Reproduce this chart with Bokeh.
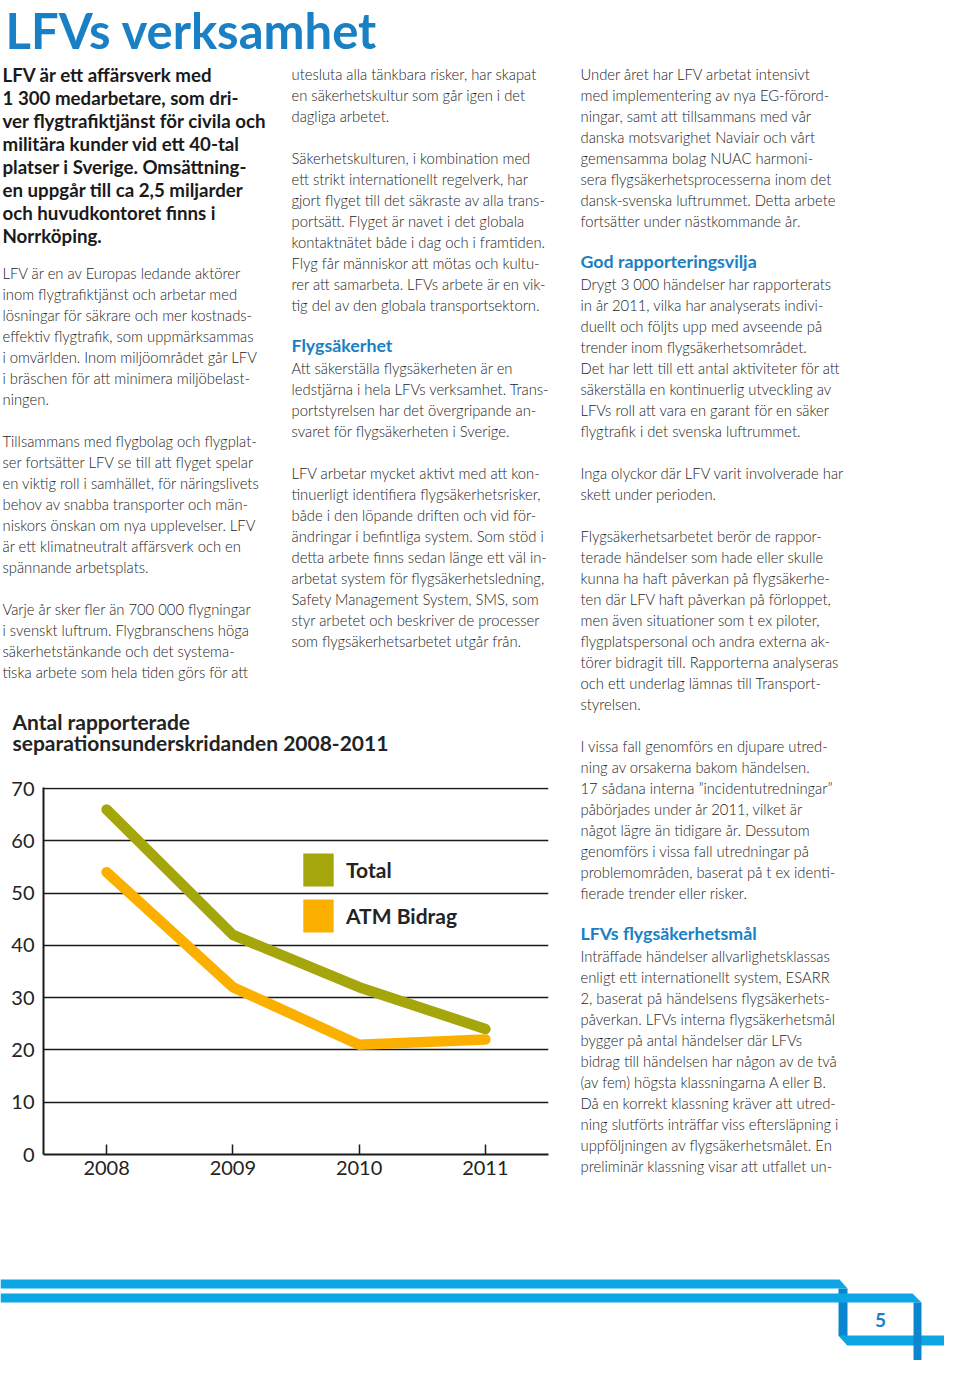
from bokeh.plotting import figure
from bokeh.layouts import column, row
from bokeh.models import Range1d, FixedTicker, Label, Legend, LegendItem
from bokeh.embed import file_html
from bokeh.resources import INLINE

# ---------------- data ----------------
years = [2008, 2009, 2010, 2011]
total = [66, 42, 32, 24]
atm_bidrag = [54, 32, 21, 22]
y_ticks = [0, 10, 20, 30, 40, 50, 60, 70]
series_names = ["Total", "ATM Bidrag"]
series_colors = ["#a5a60c", "#fbb000"]

page_title = "LFVs verksamhet"
chart_title_lines = ["Antal rapporterade", "separationsunderskridanden 2008-2011"]
page_number = "5"

lead_lines = [
    "LFV är ett affärsverk med",
    "1 300 medarbetare, som dri-",
    "ver flygtrafiktjänst för civila och",
    "militära kunder vid ett 40-tal",
    "platser i Sverige. Omsättning-",
    "en uppgår till ca 2,5 miljarder",
    "och huvudkontoret finns i",
    "Norrköping.",
]

col1_lines = [
    "LFV är en av Europas ledande aktörer",
    "inom flygtrafiktjänst och arbetar med",
    "lösningar för säkrare och mer kostnads-",
    "effektiv flygtrafik, som uppmärksammas",
    "i omvärlden. Inom miljöområdet går LFV",
    "i bräschen för att minimera miljöbelast-",
    "ningen.",
    "",
    "Tillsammans med flygbolag och flygplat-",
    "ser fortsätter LFV se till att flyget spelar",
    "en viktig roll i samhället, för näringslivets",
    "behov av snabba transporter och män-",
    "niskors önskan om nya upplevelser. LFV",
    "är ett klimatneutralt affärsverk och en",
    "spännande arbetsplats.",
    "",
    "Varje år sker fler än 700 000 flygningar",
    "i svenskt luftrum. Flygbranschens höga",
    "säkerhetstänkande och det systema-",
    "tiska arbete som hela tiden görs för att",
]

col2_lines = [
    "utesluta alla tänkbara risker, har skapat",
    "en säkerhetskultur som går igen i det",
    "dagliga arbetet.",
    "",
    "Säkerhetskulturen, i kombination med",
    "ett strikt internationellt regelverk, har",
    "gjort flyget till det säkraste av alla trans-",
    "portsätt. Flyget är navet i det globala",
    "kontaktnätet både i dag och i framtiden.",
    "Flyg får människor att mötas och kultu-",
    "rer att samarbeta. LFVs arbete är en vik-",
    "tig del av den globala transportsektorn.",
    "",
    "#Flygsäkerhet",
    "Att säkerställa flygsäkerheten är en",
    "ledstjärna i hela LFVs verksamhet. Trans-",
    "portstyrelsen har det övergripande an-",
    "svaret för flygsäkerheten i Sverige.",
    "",
    "LFV arbetar mycket aktivt med att kon-",
    "tinuerligt identifiera flygsäkerhetsrisker,",
    "både i den löpande driften och vid för-",
    "ändringar i befintliga system. Som stöd i",
    "detta arbete finns sedan länge ett väl in-",
    "arbetat system för flygsäkerhetsledning,",
    "Safety Management System, SMS, som",
    "styr arbetet och beskriver de processer",
    "som flygsäkerhetsarbetet utgår från.",
]

col3_lines = [
    "Under året har LFV arbetat intensivt",
    "med implementering av nya EG-förord-",
    "ningar, samt att tillsammans med vår",
    "danska motsvarighet Naviair och vårt",
    "gemensamma bolag NUAC harmoni-",
    "sera flygsäkerhetsprocesserna inom det",
    "dansk-svenska luftrummet. Detta arbete",
    "fortsätter under nästkommande år.",
    "",
    "#God rapporteringsvilja",
    "Drygt 3 000 händelser har rapporterats",
    "in år 2011, vilka har analyserats indivi-",
    "duellt och följts upp med avseende på",
    "trender inom flygsäkerhetsområdet.",
    "Det har lett till ett antal aktiviteter för att",
    "säkerställa en kontinuerlig utveckling av",
    "LFVs roll att vara en garant för en säker",
    "flygtrafik i det svenska luftrummet.",
    "",
    "Inga olyckor där LFV varit involverade har",
    "skett under perioden.",
    "",
    "Flygsäkerhetsarbetet berör de rappor-",
    "terade händelser som hade eller skulle",
    "kunna ha haft påverkan på flygsäkerhe-",
    "ten där LFV haft påverkan på förloppet,",
    "men även situationer som t ex piloter,",
    "flygplatspersonal och andra externa ak-",
    "törer bidragit till. Rapporterna analyseras",
    "och ett underlag lämnas till Transport-",
    "styrelsen.",
    "",
    "I vissa fall genomförs en djupare utred-",
    "ning av orsakerna bakom händelsen.",
    "17 sådana interna \u201dincidentutredningar\u201d",
    "påbörjades under år 2011, vilket är",
    "något lägre än tidigare år. Dessutom",
    "genomförs i vissa fall utredningar på",
    "problemområden, baserat på t ex identi-",
    "fierade trender eller risker.",
    "",
    "#LFVs flygsäkerhetsmål",
    "Inträffade händelser allvarlighetsklassas",
    "enligt ett internationellt system, ESARR",
    "2, baserat på händelsens flygsäkerhets-",
    "påverkan. LFVs interna flygsäkerhetsmål",
    "bygger på antal händelser där LFVs",
    "bidrag till händelsen har någon av de två",
    "(av fem) högsta klassningarna A eller B.",
    "Då en korrekt klassning kräver att utred-",
    "ning slutförts inträffar viss eftersläpning i",
    "uppföljningen av flygsäkerhetsmålet. En",
    "preliminär klassning visar att utfallet un-",
]

# ---------------- styles ----------------
BODY_FONT = "Lato Light, Lato"
BOLD_FONT = "Lato"
INK = "#232323"
BLUE = "#1a80c5"
CYAN = "#0ba6e3"
DEEP = "#0a86cf"

W = 944          # page width used
SPLIT1 = 776     # page y where the chart band starts
SPLIT2 = 1190    # page y where the footer band starts
H = 1360
CHART_W = 570


def sheet(x0, x1, y0, y1):
    """A blank figure whose frame maps page pixels (y downwards)."""
    f = figure(width=x1 - x0, height=y1 - y0,
               x_range=Range1d(x0, x1), y_range=Range1d(y1, y0),
               x_axis_type=None, y_axis_type=None,
               output_backend="svg", toolbar_location=None, min_border=0,
               frame_align=False)
    f.outline_line_color = None
    f.background_fill_color = "white"
    f.border_fill_color = "white"
    f.grid.visible = False
    return f


top = sheet(0, W, 0, SPLIT1)
side = sheet(CHART_W, W, SPLIT1, SPLIT2)
foot = sheet(0, W, SPLIT2, H)


def put(fig, x, y, text, size, color, bold=False, font=BODY_FONT, align="left"):
    fig.add_layout(Label(x=x, y=y, text=text, text_font=font, text_font_size=f"{size}px",
                         text_font_style="bold" if bold else "normal",
                         text_color=color, text_align=align, text_baseline="alphabetic"))


def put_page(x, y, text, size, color, **kw):
    fig = top if y < SPLIT1 else (side if y < SPLIT2 else foot)
    put(fig, x, y, text, size, color, **kw)


# page title
put_page(5, 29.5, page_title, 49, BLUE, bold=True, font=BOLD_FONT)

# chart title
for i, line in enumerate(chart_title_lines):
    put_page(12, 721 + 21 * i, line, 21, INK, bold=True, font=BOLD_FONT)

# lead paragraph
for i, line in enumerate(lead_lines):
    put_page(2, 74.5 + 23 * i, line, 18.7, "#1a1a1a", bold=True, font=BOLD_FONT)


def text_column(x, y0, lines):
    for i, line in enumerate(lines):
        if not line:
            continue
        y = y0 + 21 * i
        if line.startswith("#"):
            put_page(x, y - 2, line[1:], 17.8, BLUE, bold=True, font=BOLD_FONT)
        else:
            put_page(x, y, line, 14.8, INK)


text_column(2, 272, col1_lines)
text_column(291, 73, col2_lines)
text_column(580, 73, col3_lines)

# ---------------- chart ----------------
p = figure(width=CHART_W, height=SPLIT2 - SPLIT1,
           x_range=Range1d(2007.5, 2011.5), y_range=Range1d(0, 70.19),
           output_backend="svg", toolbar_location=None,
           min_border_left=43, min_border_right=22,
           min_border_top=787 - SPLIT1, min_border_bottom=SPLIT2 - 1154,
           frame_align=False)
p.background_fill_color = "white"
p.border_fill_color = "white"
p.outline_line_color = None

p.xaxis.ticker = FixedTicker(ticks=years)
p.xaxis.major_tick_in = 10
p.xaxis.major_tick_out = 0
p.xaxis.major_tick_line_width = 1.5
p.xaxis.major_tick_line_color = "#1a1a1a"
p.xaxis.minor_tick_line_color = None
p.xaxis.axis_line_width = 2
p.xaxis.axis_line_color = "#1a1a1a"
p.xaxis.major_label_standoff = 6
p.yaxis.ticker = FixedTicker(ticks=y_ticks)
p.yaxis.major_tick_in = 0
p.yaxis.major_tick_out = 0
p.yaxis.major_tick_line_color = None
p.yaxis.minor_tick_line_color = None
p.yaxis.axis_line_width = 2
p.yaxis.axis_line_color = "#1a1a1a"
p.yaxis.major_label_standoff = 9
for ax in (p.xaxis, p.yaxis):
    ax.major_label_text_font = BOLD_FONT
    ax.major_label_text_font_size = "20px"
    ax.major_label_text_color = INK
p.xgrid.grid_line_color = None
p.ygrid.grid_line_color = "#1a1a1a"
p.ygrid.grid_line_width = 1.6

p.line(years, total, line_width=10.5, line_color=series_colors[0], line_cap="round", line_join="round")
p.line(years, atm_bidrag, line_width=10.5, line_color=series_colors[1], line_cap="round", line_join="round")

nan = float("nan")
sw_total = p.quad(left=[nan], right=[nan], top=[nan], bottom=[nan], fill_color=series_colors[0], line_color=None)
sw_atm = p.quad(left=[nan], right=[nan], top=[nan], bottom=[nan], fill_color=series_colors[1], line_color=None)
legend = Legend(items=[LegendItem(label=series_names[0], renderers=[sw_total]),
                       LegendItem(label=series_names[1], renderers=[sw_atm])],
                location=(256, 218), orientation="vertical",
                glyph_width=38, glyph_height=41, label_height=41, spacing=5,
                padding=0, margin=0, label_standoff=9,
                border_line_color=None, background_fill_alpha=0,
                label_text_font=BOLD_FONT, label_text_font_size="21px",
                label_text_font_style="bold", label_text_color=INK)
p.add_layout(legend)

# ---------------- footer ornament ----------------
foot.patches(
    xs=[[838, 847, 847, 838], [0, 839, 847, 0], [0, 912, 921, 0], [838, 960, 960, 847], [913, 921, 921, 913]],
    ys=[[1288, 1288, 1345, 1335], [1279, 1279, 1288, 1288], [1293, 1293, 1302, 1302],
        [1335, 1335, 1345, 1345], [1302, 1302, 1376, 1376]],
    fill_color=[DEEP, CYAN, CYAN, CYAN, DEEP], line_color=None)
put_page(880, 1319, page_number, 19, BLUE, bold=True, font=BOLD_FONT, align="center")

layout = column(top, row(p, side, spacing=0), foot, spacing=0)
open("out.html", "w").write(file_html(layout, INLINE))
